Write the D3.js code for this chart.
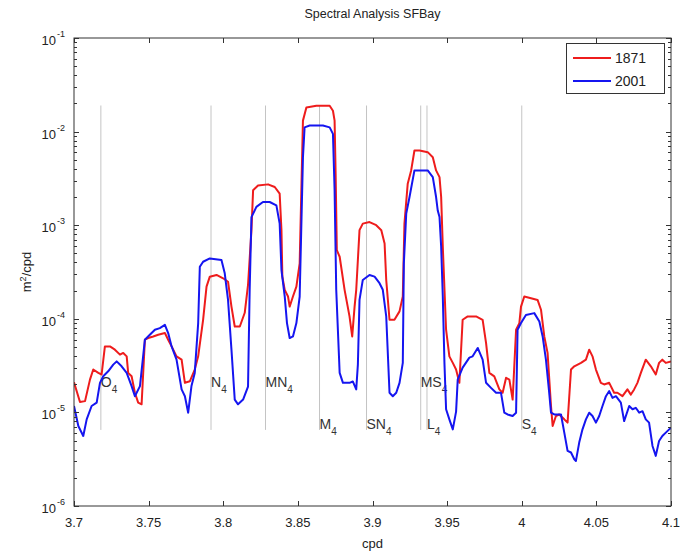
<!DOCTYPE html>
<html>
<head>
<meta charset="utf-8">
<script src="https://cdn.jsdelivr.net/npm/d3@7"></script>
<style>
  body { margin: 0; background: #fff; }
  text { font-family: "Liberation Sans", Arial, Helvetica, sans-serif; fill: #222; }
</style>
</head>
<body>
<svg id="grafico" width="681" height="553"></svg>
<script>
// Dados: [frequência (cpd), densidade espectral (m²/cpd)]
const serie1871 = [
  [3.7000, 2.1e-5], [3.7040, 1.29e-5], [3.7074, 1.32e-5], [3.7107, 2.24e-5], [3.7129, 2.87e-5],
  [3.7163, 2.64e-5], [3.7185, 2.54e-5], [3.7207, 5.07e-5], [3.7241, 5.07e-5], [3.7274, 4.68e-5],
  [3.7308, 4.14e-5], [3.7330, 4.32e-5], [3.7353, 3.97e-5], [3.7363, 2.64e-5], [3.7386, 2.43e-5],
  [3.7408, 1.62e-5], [3.7430, 1.27e-5], [3.7453, 1.22e-5], [3.7475, 5.98e-5], [3.7497, 6.23e-5],
  [3.7531, 6.48e-5], [3.7564, 6.76e-5], [3.7609, 7.04e-5], [3.7631, 5.98e-5], [3.7654, 5.07e-5],
  [3.7687, 3.97e-5], [3.7721, 3.66e-5], [3.7743, 2.07e-5], [3.7776, 2.15e-5], [3.7809, 2.87e-5],
  [3.7832, 3.97e-5], [3.7865, 9.76e-5], [3.7888, 2.21e-4], [3.7910, 2.82e-4], [3.7955, 2.94e-4],
  [3.7999, 2.71e-4], [3.8032, 2.49e-4], [3.8055, 1.35e-4], [3.8077, 8.28e-5], [3.8111, 8.28e-5],
  [3.8144, 1.16e-4], [3.8166, 2.30e-4], [3.8189, 8.85e-4], [3.8200, 2.36e-3], [3.8233, 2.66e-3],
  [3.8300, 2.73e-3], [3.8345, 2.56e-3], [3.8378, 2.17e-3], [3.8390, 8.85e-4], [3.8396, 2.82e-4],
  [3.8412, 2.04e-4], [3.8434, 1.73e-4], [3.8445, 1.35e-4], [3.8467, 1.73e-4], [3.8490, 2.21e-4],
  [3.8512, 3.91e-4], [3.8534, 1.31e-2], [3.8557, 1.81e-2], [3.8624, 1.89e-2], [3.8713, 1.89e-2],
  [3.8735, 1.67e-2], [3.8746, 1.31e-2], [3.8753, 3.55e-3], [3.8761, 5.42e-4], [3.8780, 4.60e-4],
  [3.8813, 2.04e-4], [3.8846, 1.06e-4], [3.8864, 6.48e-5], [3.8880, 1.35e-4], [3.8891, 2.04e-4],
  [3.8913, 8.85e-4], [3.8935, 1.04e-3], [3.8980, 1.08e-3], [3.9025, 1.00e-3], [3.9059, 8.85e-4],
  [3.9081, 6.38e-4], [3.9092, 2.60e-4], [3.9114, 9.76e-5], [3.9147, 9.76e-5], [3.9181, 1.20e-4],
  [3.9203, 1.73e-4], [3.9214, 1.04e-3], [3.9236, 2.78e-3], [3.9259, 3.85e-3], [3.9281, 6.28e-3],
  [3.9315, 6.28e-3], [3.9370, 6.03e-3], [3.9404, 5.33e-3], [3.9426, 3.85e-3], [3.9449, 3.26e-3],
  [3.9460, 2.00e-3], [3.9471, 5.88e-4], [3.9493, 7.64e-5], [3.9515, 3.97e-5], [3.9538, 3.38e-5],
  [3.9560, 2.87e-5], [3.9582, 2.07e-5], [3.9604, 9.76e-5], [3.9638, 1.06e-4], [3.9694, 1.06e-4],
  [3.9738, 9.76e-5], [3.9761, 5.51e-5], [3.9783, 2.64e-5], [3.9816, 2.43e-5], [3.9850, 1.76e-5],
  [3.9872, 1.62e-5], [3.9895, 2.34e-5], [3.9917, 2.24e-5], [3.9939, 1.37e-5], [3.9962, 7.64e-5],
  [3.9984, 9.0e-5], [3.9995, 1.35e-4], [4.0017, 1.73e-4], [4.0062, 1.66e-4], [4.0106, 1.59e-4],
  [4.0129, 1.25e-4], [4.0151, 6.48e-5], [4.0173, 4.32e-5], [4.0196, 1.17e-5], [4.0207, 7.15e-6],
  [4.0229, 9.14e-6], [4.0251, 9.5e-6], [4.0285, 8.43e-6], [4.0307, 7.77e-6], [4.0330, 2.87e-5],
  [4.0352, 3.11e-5], [4.0397, 3.38e-5], [4.0430, 3.66e-5], [4.0452, 4.68e-5], [4.0474, 3.97e-5],
  [4.0497, 2.87e-5], [4.0530, 2.07e-5], [4.0552, 1.99e-5], [4.0586, 2.07e-5], [4.0619, 1.62e-5],
  [4.0641, 1.62e-5], [4.0675, 1.49e-5], [4.0708, 1.76e-5], [4.0731, 1.55e-5], [4.0753, 1.76e-5],
  [4.0775, 2.07e-5], [4.0798, 2.64e-5], [4.0831, 3.66e-5], [4.0865, 3.11e-5], [4.0898, 2.54e-5],
  [4.0920, 3.38e-5], [4.0942, 3.66e-5], [4.0965, 3.38e-5], [4.1000, 3.5e-5]
];

const serie2001 = [
  [3.7000, 1.17e-5], [3.7029, 7.15e-6], [3.7062, 5.6e-6], [3.7085, 8.43e-6], [3.7118, 1.17e-5],
  [3.7152, 1.27e-5], [3.7174, 2.07e-5], [3.7196, 2.43e-5], [3.7229, 2.75e-5], [3.7263, 3.24e-5],
  [3.7286, 3.51e-5], [3.7319, 3.11e-5], [3.7353, 2.64e-5], [3.7386, 1.91e-5], [3.7408, 1.49e-5],
  [3.7442, 1.91e-5], [3.7475, 5.98e-5], [3.7508, 6.76e-5], [3.7542, 7.64e-5], [3.7575, 7.96e-5],
  [3.7609, 8.63e-5], [3.7631, 7.04e-5], [3.7654, 5.07e-5], [3.7687, 3.66e-5], [3.7721, 1.76e-5],
  [3.7743, 1.49e-5], [3.7765, 9.93e-6], [3.7787, 1.91e-5], [3.7809, 2.64e-5], [3.7832, 9.0e-5],
  [3.7843, 3.6e-4], [3.7865, 4.07e-4], [3.7910, 4.42e-4], [3.7988, 4.24e-4], [3.8010, 3.06e-4],
  [3.8032, 1.59e-4], [3.8055, 4.68e-5], [3.8077, 1.37e-5], [3.8099, 1.22e-5], [3.8133, 1.37e-5],
  [3.8166, 1.89e-5], [3.8177, 2.04e-4], [3.8189, 1.22e-3], [3.8222, 1.57e-3], [3.8266, 1.77e-3],
  [3.8311, 1.77e-3], [3.8356, 1.63e-3], [3.8378, 1.04e-3], [3.8390, 3.32e-4], [3.8412, 1.73e-4],
  [3.8427, 9.0e-5], [3.8445, 6.23e-5], [3.8467, 6.48e-5], [3.8490, 9.0e-5], [3.8512, 1.73e-4],
  [3.8534, 5.33e-3], [3.8545, 1.11e-2], [3.8579, 1.16e-2], [3.8668, 1.16e-2], [3.8713, 1.11e-2],
  [3.8735, 9.46e-3], [3.8746, 2.36e-3], [3.8757, 2.04e-4], [3.8780, 2.64e-5], [3.8802, 2.07e-5],
  [3.8846, 2.07e-5], [3.8868, 2.14e-5], [3.8891, 1.76e-5], [3.8902, 3.24e-5], [3.8913, 1.59e-4],
  [3.8935, 2.60e-4], [3.8980, 2.94e-4], [3.9014, 2.82e-4], [3.9047, 2.40e-4], [3.9069, 2.04e-4],
  [3.9092, 1.06e-4], [3.9114, 1.62e-5], [3.9136, 1.49e-5], [3.9159, 1.62e-5], [3.9181, 2.07e-5],
  [3.9203, 3.38e-5], [3.9210, 3.91e-4], [3.9226, 1.33e-3], [3.9248, 2.00e-3], [3.9281, 3.85e-3],
  [3.9370, 3.85e-3], [3.9404, 3.26e-3], [3.9426, 2.00e-3], [3.9437, 1.44e-3], [3.9449, 1.22e-3],
  [3.9460, 5.88e-4], [3.9471, 1.73e-4], [3.9482, 3.38e-5], [3.9493, 1.08e-5], [3.9515, 8.43e-6],
  [3.9538, 6.59e-6], [3.9560, 1.02e-5], [3.9571, 2.24e-5], [3.9604, 3.01e-5], [3.9649, 3.85e-5],
  [3.9671, 3.97e-5], [3.9705, 4.88e-5], [3.9738, 3.66e-5], [3.9761, 2.07e-5], [3.9794, 1.83e-5],
  [3.9828, 1.62e-5], [3.9861, 1.62e-5], [3.9883, 9.93e-6], [3.9905, 9.5e-6], [3.9939, 9.14e-6],
  [3.9962, 9.93e-6], [3.9972, 7.64e-5], [3.9995, 9.0e-5], [4.0028, 1.10e-4], [4.0084, 1.15e-4],
  [4.0118, 9.36e-5], [4.0140, 6.48e-5], [4.0162, 3.66e-5], [4.0184, 1.62e-5], [4.0196, 9.93e-6],
  [4.0218, 9.5e-6], [4.0263, 9.5e-6], [4.0285, 6.08e-6], [4.0307, 3.88e-6], [4.0330, 3.73e-6],
  [4.0352, 3.16e-6], [4.0363, 3.03e-6], [4.0385, 4.76e-6], [4.0407, 6.59e-6], [4.0430, 8.43e-6],
  [4.0452, 9.93e-6], [4.0474, 9.14e-6], [4.0497, 7.77e-6], [4.0519, 9.14e-6], [4.0541, 1.17e-5],
  [4.0564, 1.49e-5], [4.0586, 1.69e-5], [4.0608, 1.43e-5], [4.0631, 1.49e-5], [4.0664, 1.27e-5],
  [4.0686, 8.08e-6], [4.0720, 1.17e-5], [4.0742, 1.08e-5], [4.0764, 1.12e-5], [4.0787, 9.93e-6],
  [4.0809, 1.03e-5], [4.0831, 8.43e-6], [4.0853, 7.77e-6], [4.0876, 4.38e-6], [4.0898, 3.43e-6],
  [4.0920, 4.95e-6], [4.0942, 5.6e-6], [4.0965, 6.08e-6], [4.1000, 6.87e-6]
];

// Constituintes de maré (nome, frequência em cpd, nível do rótulo)
const constituintes = ["O", "N", "MN", "M", "SN", "MS", "L", "S"];
const freqConstituintes = [3.718, 3.7918, 3.8283, 3.8645, 3.8960, 3.9323, 3.9365, 4.0];
const rotuloConstituintes = [1.85e-5, 1.85e-5, 1.85e-5, 6.6e-6, 6.6e-6, 1.85e-5, 6.6e-6, 6.6e-6];
const extensaoLinhas = [6.5e-6, 1.9e-2];

const ticksX = [3.7, 3.75, 3.8, 3.85, 3.9, 3.95, 4.0, 4.05, 4.1];
const rotulosX = ["3.7", "3.75", "3.8", "3.85", "3.9", "3.95", "4", "4.05", "4.1"];
const expoentesY = [-6, -5, -4, -3, -2, -1];

const anos = ["1871", "2001"];
const cores = ["#ee1c1c", "#1515f0"];

// Layout
const esquerda = 74, direita = 671, topo = 38, base = 506;
const svg = d3.select("#grafico");

const x = d3.scaleLinear().domain([3.7, 4.1]).range([esquerda, direita]);
const y = d3.scaleLog().domain([1e-6, 1e-1]).range([base, topo]);

svg.append("defs").append("clipPath").attr("id", "area")
  .append("rect").attr("x", esquerda).attr("y", topo)
  .attr("width", direita - esquerda).attr("height", base - topo);

// Linhas verticais dos constituintes
svg.append("g").selectAll("line")
  .data(freqConstituintes)
  .enter().append("line")
  .attr("x1", d => x(d)).attr("x2", d => x(d))
  .attr("y1", y(extensaoLinhas[0])).attr("y2", y(extensaoLinhas[1]))
  .attr("stroke", "#c4c4c4").attr("stroke-width", 1);

// Rótulos dos constituintes com subscrito 4
const rotulos = svg.append("g").selectAll("text")
  .data(constituintes)
  .enter().append("text")
  .attr("x", (d, i) => x(freqConstituintes[i]))
  .attr("y", (d, i) => y(rotuloConstituintes[i]))
  .attr("font-size", 14)
  .style("fill", "#333");
rotulos.append("tspan").text(d => d);
rotulos.append("tspan").attr("dy", 6).attr("font-size", 10).text("4");

// Curvas
const linha = d3.line().x(d => x(d[0])).y(d => y(d[1]));
const curvas = svg.append("g").attr("clip-path", "url(#area)");
[serie1871, serie2001].forEach((serie, i) => {
  curvas.append("path")
    .datum(serie)
    .attr("d", linha)
    .attr("fill", "none")
    .attr("stroke", cores[i])
    .attr("stroke-width", 2)
    .attr("stroke-linejoin", "round");
});

// Eixos (estilo Matlab: caixa e ticks para dentro)
const eixo = svg.append("g").attr("stroke", "#333").attr("stroke-width", 1);
eixo.append("rect")
  .attr("x", esquerda).attr("y", topo)
  .attr("width", direita - esquerda).attr("height", base - topo)
  .attr("fill", "none");

ticksX.forEach(t => {
  const px = Math.round(x(t)) + 0.5;
  eixo.append("line").attr("x1", px).attr("x2", px).attr("y1", base).attr("y2", base - 5);
  eixo.append("line").attr("x1", px).attr("x2", px).attr("y1", topo).attr("y2", topo + 5);
});

expoentesY.forEach(e => {
  for (let m = 1; m <= 9; m++) {
    if (e === -1 && m > 1) break;
    const py = Math.round(y(m * Math.pow(10, e))) + 0.5;
    const tam = m === 1 ? 5 : 3;
    eixo.append("line").attr("x1", esquerda).attr("x2", esquerda + tam).attr("y1", py).attr("y2", py);
    eixo.append("line").attr("x1", direita).attr("x2", direita - tam).attr("y1", py).attr("y2", py);
  }
});

// Rótulos do eixo X
svg.append("g").selectAll("text")
  .data(ticksX)
  .enter().append("text")
  .attr("x", d => x(d))
  .attr("y", base + 21)
  .attr("text-anchor", "middle")
  .attr("font-size", 13)
  .text((d, i) => rotulosX[i]);

// Rótulos do eixo Y (10^e)
svg.append("g").selectAll("text")
  .data(expoentesY)
  .enter().append("text")
  .attr("x", esquerda - 18)
  .attr("y", d => y(Math.pow(10, d)) + 7)
  .attr("text-anchor", "end")
  .attr("font-size", 13)
  .text("10");
svg.append("g").selectAll("text")
  .data(expoentesY)
  .enter().append("text")
  .attr("x", esquerda - 17)
  .attr("y", d => y(Math.pow(10, d)) - 1)
  .attr("font-size", 9)
  .text(d => "-" + Math.abs(d));

// Títulos
svg.append("text")
  .attr("x", (esquerda + direita) / 2).attr("y", 18)
  .attr("text-anchor", "middle").attr("font-size", 12.5)
  .text("Spectral Analysis SFBay");

svg.append("text")
  .attr("x", (esquerda + direita) / 2).attr("y", 548)
  .attr("text-anchor", "middle").attr("font-size", 13)
  .text("cpd");

const rotuloY = svg.append("text")
  .attr("transform", `translate(31, ${(topo + base) / 2}) rotate(-90)`)
  .attr("text-anchor", "middle").attr("font-size", 13);
rotuloY.append("tspan").text("m");
rotuloY.append("tspan").attr("dy", -5).attr("font-size", 9).text("2");
rotuloY.append("tspan").attr("dy", 5).text("/cpd");

// Legenda
const legenda = svg.append("g");
legenda.append("rect")
  .attr("x", 566.5).attr("y", 43.5).attr("width", 98).attr("height", 50)
  .attr("fill", "#fff").attr("stroke", "#333").attr("stroke-width", 1);
anos.forEach((ano, i) => {
  const ly = 58 + i * 23;
  legenda.append("line")
    .attr("x1", 573).attr("x2", 611).attr("y1", ly).attr("y2", ly)
    .attr("stroke", cores[i]).attr("stroke-width", 2);
  legenda.append("text")
    .attr("x", 615).attr("y", ly + 5)
    .attr("font-size", 14)
    .text(ano);
});
</script>
</body>
</html>
